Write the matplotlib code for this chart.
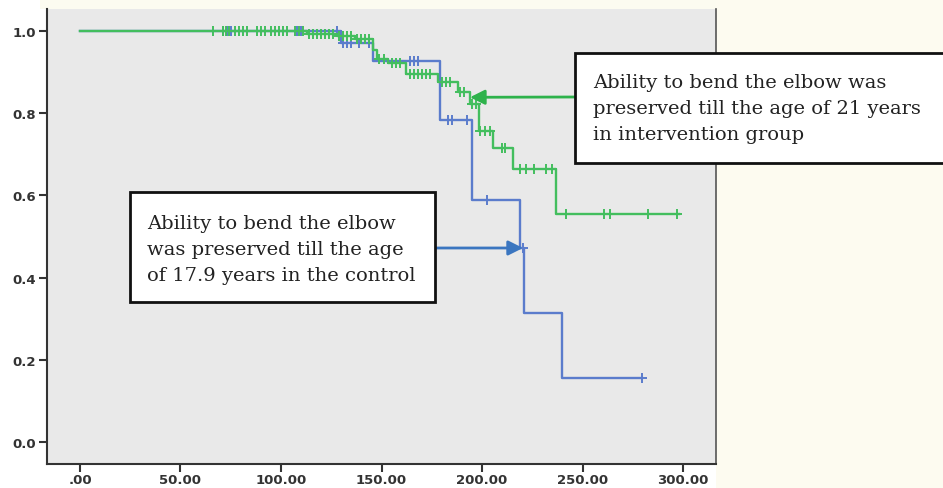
import matplotlib.pyplot as plt
import numpy as np
from matplotlib.patches import Rectangle

# Kaplan-Meier step curves (time, survival after step)
green_t = [0, 113, 128, 137, 146, 148, 153, 162, 178, 188, 194, 198.5, 205.5, 215.5, 237, 298]
green_s = [1.0, 0.993, 0.988, 0.981, 0.955, 0.932, 0.922, 0.895, 0.876, 0.852, 0.822, 0.757, 0.715, 0.664, 0.555, 0.555]
green_cens = [66, 71, 72.5, 74, 77, 79, 81, 83, 88, 90, 92, 95, 97, 99, 101, 103, 107, 109, 111,
              114, 116, 118, 120, 122, 124, 126, 129, 131, 133, 135, 138, 140, 142, 144,
              149, 151, 155, 157, 159, 164, 166, 168, 170, 172, 174, 180, 182, 184, 189, 191,
              195, 197, 199, 201.5, 204, 209.8, 211.4, 219, 222, 226, 232, 234.7,
              241.6, 260.7, 263.7, 282.6, 296.9]

blue_t = [0, 130, 146, 179, 195, 219, 220.8, 240, 279.4]
blue_s = [1.0, 0.972, 0.927, 0.783, 0.588, 0.472, 0.314, 0.156, 0.156]
blue_cens = [71, 73, 75, 108, 110, 128, 131, 133, 135, 139, 144, 164, 166, 168,
             183, 185, 192.4, 202.5, 220.2, 279.4]

yticks = [0.0, 0.2, 0.4, 0.6, 0.8, 1.0]
xticks = [0, 50, 100, 150, 200, 250, 300]

green_note = "Ability to bend the elbow was\npreserved till the age of 21 years\nin intervention group"
blue_note = "Ability to bend the elbow\nwas preserved till the age\nof 17.9 years in the control"
green_tip = (194, 0.839)
blue_tip = (220.4, 0.472)

GREEN = '#43be5e'
BLUE = '#5b7ccc'
W, H = 943, 489


def fx(px):
    return px / W


def fy(py):
    return 1 - py / H


def surv_at(times, surv, t):
    i = np.searchsorted(times, t, side='right') - 1
    return np.array(surv)[i]


fig = plt.figure(figsize=(W / 100, H / 100), dpi=100)
fig.patch.set_facecolor('white')
# cream margins of the scanned page
fig.add_artist(Rectangle((fx(716), 0), 1 - fx(716), 1, transform=fig.transFigure,
                         facecolor='#fdfbf0', edgecolor='none', zorder=0))
fig.add_artist(Rectangle((fx(40), fy(10)), fx(716) - fx(40), 1 - fy(10), transform=fig.transFigure,
                         facecolor='#fcfbf0', edgecolor='none', zorder=0))

ax = fig.add_axes([fx(47), fy(465), fx(716) - fx(47), fy(10) - fy(465)])
ax.set_facecolor('#e9e9e9')
ax.set_xlim(-16.4, 316.4)
ax.set_ylim(-0.054, 1.054)

ax.step(blue_t, blue_s, where='post', color=BLUE, lw=1.7, zorder=2)
ax.plot(blue_cens, surv_at(blue_t, blue_s, blue_cens), '+', color=BLUE, ms=7, mew=1.4, zorder=2)
ax.step(green_t, green_s, where='post', color=GREEN, lw=1.7, zorder=3)
ax.plot(green_cens, surv_at(green_t, green_s, green_cens), '+', color=GREEN, ms=7, mew=1.4, zorder=3)

ax.set_xticks(xticks)
ax.set_xticklabels(['.00'] + ['%.2f' % v for v in xticks[1:]])
ax.set_yticks(yticks)
ax.set_yticklabels(['%.1f' % v for v in yticks])
ax.tick_params(axis='both', direction='out', width=1.5, color='#333333',
               labelsize=9.5, labelcolor='#333333')
ax.tick_params(axis='x', length=6, pad=0.5)
ax.tick_params(axis='y', length=6, pad=2)
for lab in ax.get_xticklabels() + ax.get_yticklabels():
    lab.set_family('DejaVu Sans')
    lab.set_fontweight('bold')
ax.spines['top'].set_visible(False)
for side in ['left', 'bottom']:
    ax.spines[side].set_color('#333333')
    ax.spines[side].set_linewidth(1.5)
ax.spines['right'].set_color('#555555')
ax.spines['right'].set_linewidth(1.2)

# annotation boxes
fig.add_artist(Rectangle((fx(575), fy(164)), fx(960) - fx(575), fy(54) - fy(164), transform=fig.transFigure,
                         facecolor='white', edgecolor='#111111', lw=2, zorder=5))
fig.text(fx(593), fy(109), green_note, family='DejaVu Serif', fontsize=14, va='center', ha='left',
         color='#222222', linespacing=1.6, zorder=6)
fig.add_artist(Rectangle((fx(130), fy(303)), fx(435) - fx(130), fy(193) - fy(303), transform=fig.transFigure,
                         facecolor='white', edgecolor='#111111', lw=2, zorder=5))
fig.text(fx(147), fy(250), blue_note, family='DejaVu Serif', fontsize=14, va='center', ha='left',
         color='#222222', linespacing=1.6, zorder=6)

ax.annotate('', xy=green_tip, xycoords='data', xytext=(fx(575), fy(98)), textcoords='figure fraction',
            arrowprops=dict(arrowstyle='-|>', color='#2eb24b', lw=2, mutation_scale=22, shrinkA=0, shrinkB=0),
            annotation_clip=False, zorder=6)
ax.annotate('', xy=blue_tip, xycoords='data', xytext=(fx(435), fy(249)), textcoords='figure fraction',
            arrowprops=dict(arrowstyle='-|>', color='#3b76c0', lw=2, mutation_scale=22, shrinkA=0, shrinkB=0),
            annotation_clip=False, zorder=6)

fig.savefig('out.png', dpi=100)
